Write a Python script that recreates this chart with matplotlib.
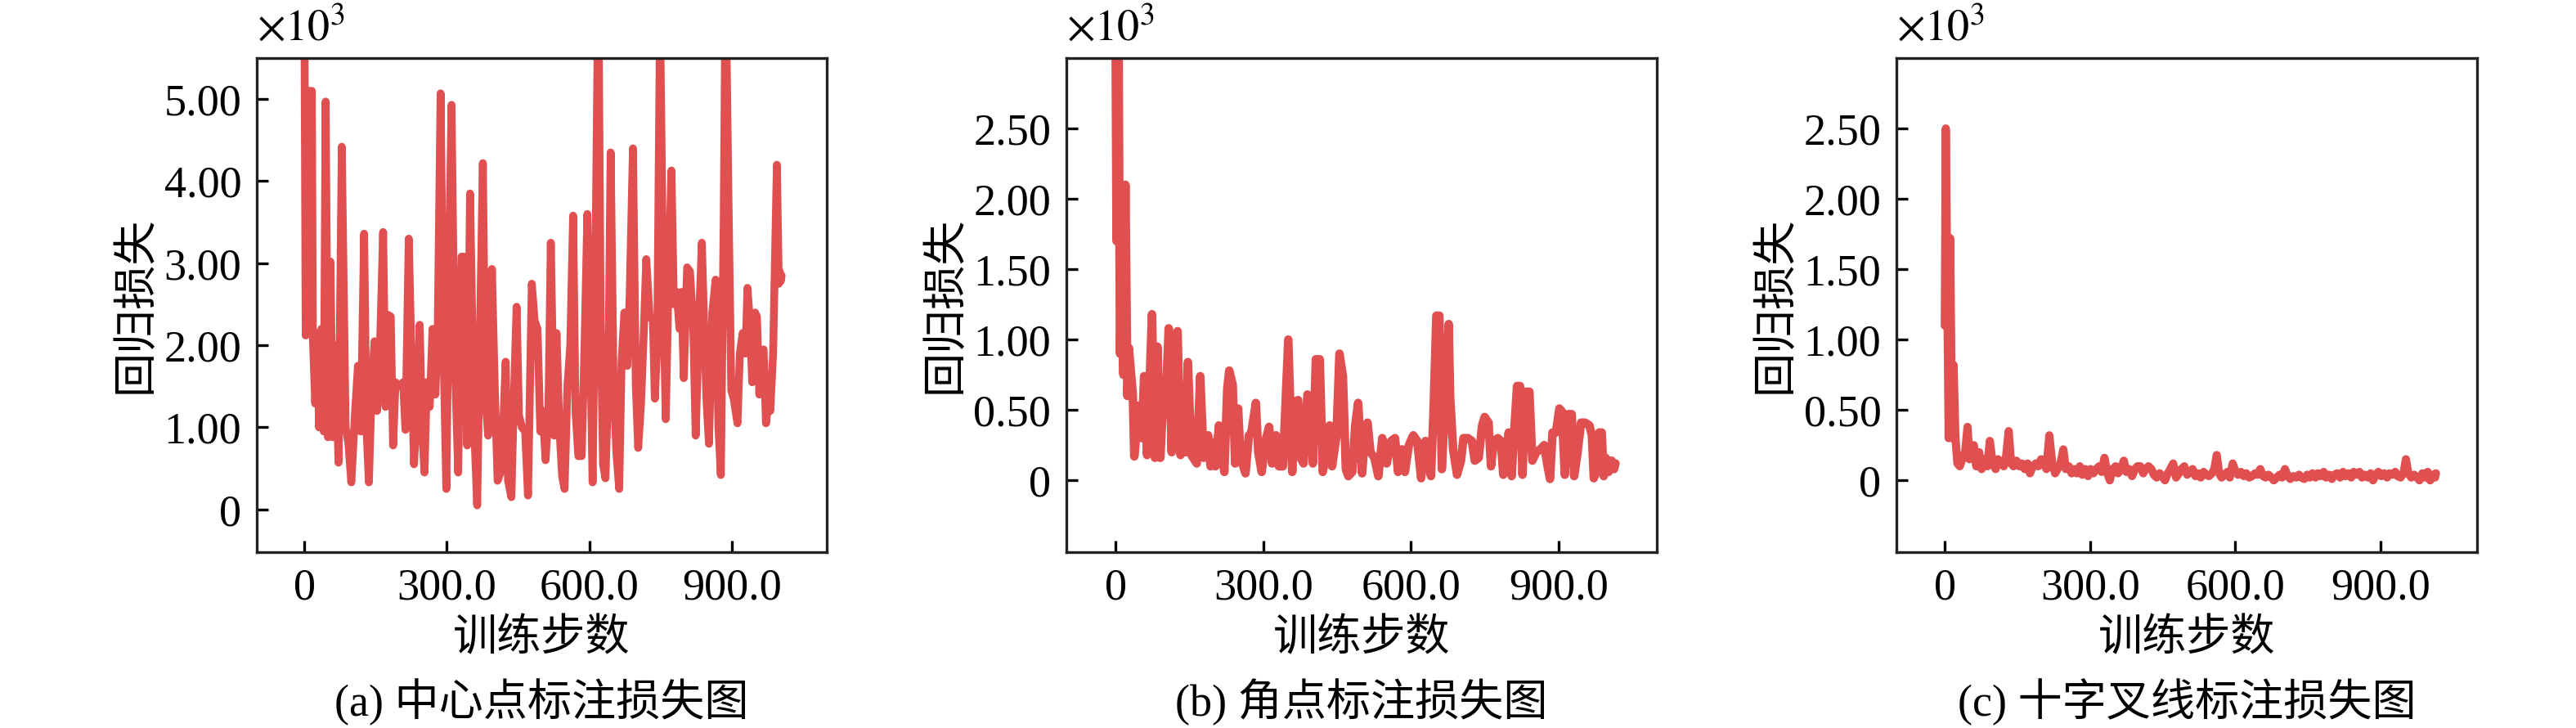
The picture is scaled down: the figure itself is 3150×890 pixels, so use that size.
import matplotlib
matplotlib.use("Agg")
import matplotlib.pyplot as plt

plt.rcParams['font.family'] = ['Liberation Serif', 'Noto Sans CJK SC', 'DejaVu Sans']
plt.rcParams['mathtext.fontset'] = 'stix'
plt.rcParams['axes.unicode_minus'] = False

# ---------------- data (loss values in units of 10^3) ----------------
steps_a = [0,3,8,16,18,23,28,31,36,41,
           45,50,55,60,66,72,79,87,93,99,
           107,113,119,126,131,136,142,148,153,159,
           166,171,177,182,187,192,200,208,213,220,
           227,231,237,243,248,253,258,264,270,276,
           281,287,293,299,305,310,316,324,331,337,
           343,349,357,364,370,376,381,387,395,401,
           407,413,419,424,429,436,441,447,452,458,
           465,471,479,485,491,497,502,508,514,519,
           526,531,537,543,548,554,560,566,571,577,
           584,590,596,602,607,613,619,624,629,634,
           640,645,651,657,663,668,674,680,685,692,
           698,703,709,715,720,727,734,738,743,749,
           756,761,767,773,778,784,790,794,799,806,
           812,819,824,831,837,843,847,852,859,866,
           872,877,883,887,893,899,904,912,917,923,
           929,933,938,943,949,953,958,963,967,972,
           977,981,987,995,999,1001,1003,1005]
loss_a = [6.5,2.12,5.1,5.1,2.12,1.29,2.15,1.0,2.2,0.95,
          4.97,0.88,3.02,0.88,2.0,0.57,4.42,1.0,0.8,0.33,
          1.2,1.75,0.95,3.36,0.99,0.33,1.5,2.05,1.2,1.9,
          3.38,1.25,2.37,2.35,0.78,1.55,1.5,1.55,0.97,3.3,
          1.5,0.55,1.2,2.25,1.0,0.45,1.55,1.25,2.2,1.4,
          2.2,5.07,2.0,0.25,3.05,4.93,2.0,0.45,3.08,3.08,
          0.78,3.85,1.1,0.05,2.2,4.22,1.4,0.9,2.93,1.5,
          0.35,0.45,1.05,1.8,0.35,0.15,1.3,2.47,1.15,1.0,
          0.95,0.17,2.75,2.3,2.2,0.95,1.2,0.6,1.2,3.25,
          0.9,2.15,1.0,0.4,0.25,1.5,2.0,3.58,1.2,0.65,
          0.65,2.0,3.6,2.0,0.33,3.0,6.5,2.3,0.55,0.38,
          1.5,4.35,1.6,0.7,0.25,1.8,2.4,1.75,2.6,4.4,
          1.5,0.75,1.3,2.2,3.05,2.35,2.3,1.35,2.0,6.0,
          2.6,1.1,2.8,4.13,2.5,2.65,2.2,2.65,1.6,2.95,
          2.9,2.2,0.9,2.3,3.25,2.0,1.3,0.8,2.4,2.8,
          1.0,0.42,3.5,6.5,3.8,1.45,1.35,1.05,1.9,2.15,
          1.9,2.7,2.3,1.55,2.4,2.35,1.4,1.9,1.95,1.05,
          1.3,1.2,1.9,4.2,2.75,2.9,2.78,2.85]

# (step, loss) pairs for the corner-point loss curve
points_b = [(0,3.2),(2,1.7),(6,3.2),(9,0.9),(12,1.4),(16,0.75),(20,2.1),(24,0.6),
            (27,0.94),(35,0.61),(38,0.17),(47,0.53),(53,0.30),(58,0.74),(64,0.18),
            (74,1.18),(80,0.16),(85,0.95),(91,0.16),(96,0.53),(101,0.49),(108,1.08),
            (114,0.2),(118,0.98),(126,1.06),(132,0.18),(137,0.51),(142,0.20),(147,0.84),
            (154,0.18),(165,0.12),(172,0.74),(179,0.16),(188,0.32),(193,0.10),(199,0.27),
            (203,0.10),(210,0.39),(216,0.20),(221,0.06),(227,0.65),(231,0.78),(238,0.68),
            (243,0.12),(249,0.51),(254,0.16),(264,0.05),(271,0.32),(276,0.34),(285,0.55),
            (290,0.20),(297,0.06),(304,0.27),(312,0.38),(318,0.12),(326,0.32),(332,0.10),
            (340,0.10),(351,1.0),(359,0.06),(365,0.56),(371,0.57),(376,0.16),(382,0.12),
            (390,0.61),(396,0.51),(401,0.12),(407,0.86),(415,0.86),(421,0.06),(429,0.20),
            (435,0.39),(440,0.10),(449,0.32),(455,0.90),(462,0.74),(468,0.08),(473,0.03),
            (481,0.06),(487,0.39),(493,0.55),(501,0.05),(507,0.32),(512,0.41),(518,0.20),
            (526,0.16),(534,0.03),(542,0.30),(551,0.12),(560,0.28),(568,0.30),(574,0.06),
            (582,0.22),(588,0.06),(596,0.25),(605,0.32),(613,0.28),(621,0.015),(630,0.28),
            (635,0.20),(641,0.03),(646,0.47),(652,1.17),(658,1.17),(663,0.08),(672,0.71),
            (677,1.11),(680,0.59),(686,0.22),(694,0.04),(702,0.14),(707,0.30),(716,0.30),
            (724,0.28),(730,0.14),(738,0.16),(745,0.39),(750,0.45),(758,0.41),(763,0.10),
            (769,0.28),(777,0.30),(783,0.28),(788,0.04),(794,0.20),(799,0.34),(805,0.03),
            (810,0.34),(816,0.67),(822,0.67),(827,0.04),(833,0.63),(841,0.63),(847,0.14),
            (855,0.20),(863,0.22),(871,0.25),(877,0.12),(883,0.01),(888,0.34),(895,0.34),
            (902,0.51),(907,0.49),(913,0.04),(919,0.47),(927,0.47),(932,0.03),(939,0.20),
            (946,0.41),(954,0.41),(963,0.39),(968,0.32),(972,0.015),(978,0.08),(983,0.34),
            (988,0.34),(992,0.03),(996,0.16),(1002,0.06),(1008,0.14),(1013,0.08),(1016,0.12)]
steps_b = [p[0] for p in points_b]
loss_b = [p[1] for p in points_b]

steps_c = [0,2,6,8,11,15,18,22,26,31,
           36,42,47,51,56,60,65,71,76,82,
           88,93,99,105,110,116,122,127,132,137,
           142,148,154,159,165,171,176,182,188,193,
           199,205,210,216,222,228,233,239,245,250,
           256,262,267,273,279,284,290,296,301,307,
           313,319,324,330,336,341,347,353,358,364,
           370,375,381,387,393,398,404,410,415,421,
           427,432,438,444,449,455,461,466,472,478,
           484,489,495,501,506,512,518,523,529,535,
           540,546,552,557,562,567,572,578,584,589,
           595,601,606,612,618,623,629,635,641,646,
           652,658,663,669,675,680,686,692,697,703,
           709,714,720,726,732,737,743,749,754,760,
           766,771,777,783,788,794,800,805,811,817,
           823,828,834,840,845,851,857,862,868,874,
           880,885,891,896,902,908,914,919,925,931,
           936,942,948,953,958,964,970,976,981,987,
           993,998,1003,1009,1013,1015]
loss_c = [1.1,2.5,1.0,0.3,1.72,0.3,0.82,0.3,0.12,0.1,
          0.15,0.2,0.38,0.15,0.2,0.25,0.1,0.2,0.08,0.15,
          0.1,0.28,0.12,0.08,0.15,0.12,0.1,0.18,0.35,0.12,
          0.1,0.14,0.1,0.12,0.08,0.12,0.05,0.1,0.12,0.1,
          0.15,0.12,0.08,0.32,0.12,0.05,0.08,0.12,0.22,0.08,
          0.1,0.05,0.08,0.05,0.1,0.04,0.08,0.03,0.08,0.05,
          0.08,0.1,0.06,0.16,0.05,0.0,0.08,0.1,0.05,0.08,
          0.14,0.06,0.08,0.03,0.08,0.1,0.1,0.05,0.08,0.1,
          0.08,0.04,0.02,0.05,0.03,0.0,0.05,0.08,0.12,0.02,
          0.05,0.08,0.1,0.04,0.06,0.08,0.03,0.05,0.02,0.06,
          0.04,0.03,0.05,0.08,0.18,0.05,0.02,0.04,0.06,0.02,
          0.12,0.06,0.04,0.06,0.03,0.05,0.02,0.03,0.05,0.04,
          0.08,0.03,0.02,0.04,0.02,0.0,0.02,0.04,0.02,0.08,
          0.03,0.01,0.03,0.02,0.04,0.02,0.01,0.04,0.02,0.05,
          0.02,0.05,0.03,0.06,0.02,0.04,0.01,0.04,0.05,0.02,
          0.06,0.03,0.05,0.02,0.06,0.04,0.06,0.02,0.04,0.02,
          0.05,0.0,0.04,0.06,0.03,0.05,0.02,0.05,0.04,0.06,
          0.03,0.02,0.05,0.15,0.05,0.02,0.04,0.02,0.0,0.05,
          0.02,0.06,0.0,0.04,0.02,0.05]

x_ticks = [0, 300, 600, 900]
x_ticklabels = ['0', '300.0', '600.0', '900.0']
y_ticks_a = [0, 1, 2, 3, 4, 5]
y_ticklabels_a = ['0', '1.00', '2.00', '3.00', '4.00', '5.00']
y_ticks_bc = [0, 0.5, 1.0, 1.5, 2.0, 2.5]
y_ticklabels_bc = ['0', '0.50', '1.00', '1.50', '2.00', '2.50']
captions = ['(a) 中心点标注损失图', '(b) 角点标注损失图', '(c) 十字叉线标注损失图']
xlabel = '训练步数'
ylabel = '回归损失'
offset_label = r'$\times10^{3}$'

# ---------------- figure ----------------
color = '#E15050'
fs = 13
fig = plt.figure(figsize=(10.5, 890 / 300), dpi=300)

positions = [
    [314 / 3150, 1 - 675 / 890, 697 / 3150, 604 / 890],
    [1304 / 3150, 1 - 675 / 890, 722 / 3150, 604 / 890],
    [2319 / 3150, 1 - 675 / 890, 710 / 3150, 604 / 890],
]
series = [(steps_a, loss_a), (steps_b, loss_b), (steps_c, loss_c)]
ylims = [(-0.52, 5.5), (-0.51, 3.0), (-0.51, 3.0)]
yticks = [(y_ticks_a, y_ticklabels_a), (y_ticks_bc, y_ticklabels_bc), (y_ticks_bc, y_ticklabels_bc)]
widths = [2.3, 2.5, 2.4]

for i in range(3):
    ax = fig.add_axes(positions[i])
    xs, ys = series[i]
    ax.plot(xs, ys, color=color, lw=widths[i], solid_joinstyle='round', solid_capstyle='round')
    ax.set_xlim(-100, 1100)
    ax.set_ylim(*ylims[i])
    ax.set_xticks(x_ticks)
    ax.set_xticklabels(x_ticklabels)
    ax.set_yticks(yticks[i][0])
    ax.set_yticklabels(yticks[i][1])
    ax.tick_params(direction='in', length=3.4, width=0.8, labelsize=fs, pad=4.5,
                   top=False, right=False)
    for sp in ax.spines.values():
        sp.set_linewidth(0.8)
        sp.set_color('#222222')
    ax.set_xlabel(xlabel, fontsize=fs, labelpad=3)
    ax.set_ylabel(ylabel, fontsize=fs, labelpad=2)
    ax.annotate(offset_label, xy=(0, 1), xycoords='axes fraction',
                xytext=(0, 5), textcoords='offset points',
                ha='left', va='baseline', fontsize=fs)
    pos = positions[i]
    fig.text(pos[0] + pos[2] / 2, 1 - 858 / 890, captions[i], ha='center', va='center', fontsize=fs)

fig.savefig('out.png', dpi=300)
